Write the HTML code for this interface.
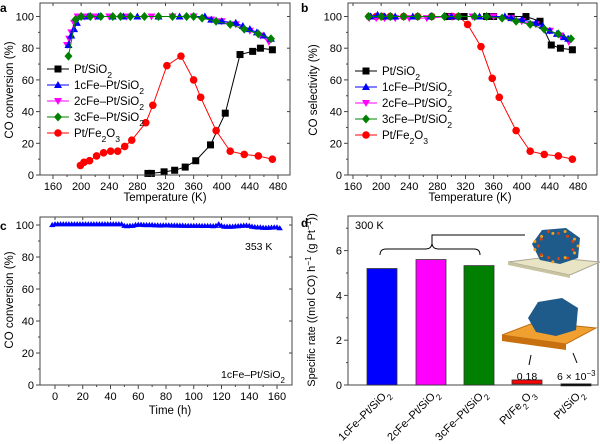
<!DOCTYPE html>
<html><head><meta charset="utf-8">
<style>
html,body{margin:0;padding:0;background:#fff;}
svg{display:block;font-family:"Liberation Sans",Arial,sans-serif;}
</style></head>
<body>
<svg id="fig" width="600" height="444" viewBox="0 0 600 444" xmlns="http://www.w3.org/2000/svg"></svg>
<script>
// ---------- Data ----------
const aPtSiO2T=[295,300,318,333,348,363,384,405,426,444,455,472];
const aPtSiO2V=[1,1,2,3,5,9,19,39,76,78,80,79];
const aPtFeT=[199,204,212,222,232,242,252,262,272,292,302,322,342,360,370,392,412,432,452,472];
const aPtFeV=[6,8,9,12,14,15,15,18,22,33,44,69,75,60,49,28,15,13,12,10];
const a1cT=[182,186,190,194,200,210,225,245,260,280,310,340,376,385,400,420,430,440,450,460,470];
const a1cV=[82,88,92,96,100,100,100,100,100,100,100,100,100,98,97,96,94,92,90,88,86];
const a2cT=[180,183,186,190,195,205,220,240,265,300,330,360,385,400,420,440,455,467];
const a2cV=[82,86,90,96,100,100,100,100,100,100,100,100,98,97,95,91,88,84];
const a3cT=[182,192,200,213,228,245,256,270,290,310,330,350,360,372,392,412,432,452,470];
const a3cV=[75,98,100,100,100,100,100,100,100,100,100,100,100,99,97,95,92,89,86];

const bPtSiO2T=[295,318,350,360,385,406,426,442,455,472];
const bPtSiO2V=[100,100,100,100,100,100,97,82,80,79];
const bPtFeT=[183,193,203,213,232,252,272,292,302,310,323,342,358,368,392,412,432,452,472];
const bPtFeV=[100,100,100,100,100,100,100,100,100,100,95,81,61,49,28,15,13,12,10];
const b1cT=[185,195,205,220,245,270,300,310,340,376,385,400,420,430,440,450,460,466];
const b1cV=[100,101,100,100,100,100,100,100,100,100,99,98,96,94,91,89,87,86];
const b2cT=[183,193,205,220,240,265,300,330,360,385,400,420,440,455,467];
const b2cV=[99,99,99,99,99,99,100,100,100,99,97,95,91,88,84];
const b3cT=[182,200,213,232,252,272,290,310,333,350,372,392,412,432,452,470];
const b3cV=[100,100,100,100,100,100,100,100,100,100,99,97,95,92,89,86];

const cTime=[-2,0,2,4,6,8,10,12,14,16,18,20,22,24,26,28,30,32,34,36,38,40,42,44,46,48,50,52,54,56,58,60,62,64,66,68,70,72,74,76,78,80,82,84,86,88,90,92,94,96,98,100,102,104,106,108,110,112,114,116,118,120,122,124,126,128,130,132,134,136,138,140,142,144,146,148,150,152,154,156,158,160,162];
const cConv=[100,100.5,100.5,100.5,100.5,100.5,100.5,100.5,100.5,100.5,100.5,100.5,100.5,100.5,100.5,100.5,100.5,100.5,100.5,100.5,100.5,100.5,100.5,100.5,100.5,100.5,99.5,99.3,99.5,99.5,100,100.2,100.2,100,100,100,100,99.8,99.8,99.7,99.8,99.8,99.8,99.7,99.7,99.7,99.6,99.6,99.5,99.5,99.5,99.5,99.5,99.5,99.4,99.4,99.4,99.4,99.3,99.5,100.5,99.5,99,99,99,99,99.2,99.3,99.5,99.6,99.7,99.5,99,98.7,98.5,98.5,98.3,98.2,98.3,98.4,98.5,98.5,98];

const dCats=["1cFe–Pt/SiO2","2cFe–Pt/SiO2","3cFe–Pt/SiO2","Pt/Fe2O3","Pt/SiO2"];
const dVals=[5.2,5.6,5.33,0.18,0.006];
const dColors=["#0000ff","#ff00ff","#008000","#ff0000","#000000"];

// ---------- Helpers ----------
const NS="http://www.w3.org/2000/svg";
const svg=document.getElementById('fig');
function mk(tag,attrs,parent){const e=document.createElementNS(NS,tag);for(const k in attrs)e.setAttribute(k,attrs[k]);(parent||svg).appendChild(e);return e;}
function txt(x,y,s,attrs,parent){const t=mk('text',Object.assign({x:x,y:y,'font-size':11,fill:'#000'},attrs||{}),parent);t.textContent=s;return t;}
function chemText(x,y,s,attrs,parent){
  const t=mk('text',Object.assign({x:x,y:y,'font-size':11,fill:'#000'},attrs||{}),parent);
  let buf='';
  for(let i=0;i<s.length;i++){
    const c=s[i];
    const isSub=/\d/.test(c)&&i>0&&/[Oe]/.test(s[i-1]);
    if(isSub){
      if(buf){const sp=mk('tspan',{},t);sp.textContent=buf;buf='';}
      const sp=mk('tspan',{'baseline-shift':'sub','font-size':'0.75em'},t);sp.textContent=c;
    } else buf+=c;
  }
  if(buf){const sp=mk('tspan',{},t);sp.textContent=buf;}
  return t;
}
function marker(g,type,x,y,color,s){
  s=s||3.5;
  if(type==='sq')return mk('rect',{x:x-s,y:y-s,width:2*s,height:2*s,fill:color},g);
  if(type==='tu')return mk('polygon',{points:`${x},${y-s-0.5} ${x-s-0.5},${y+s-0.5} ${x+s+0.5},${y+s-0.5}`,fill:color},g);
  if(type==='td')return mk('polygon',{points:`${x},${y+s+0.5} ${x-s-0.5},${y-s+0.5} ${x+s+0.5},${y-s+0.5}`,fill:color},g);
  if(type==='di')return mk('polygon',{points:`${x},${y-s-1} ${x+s+0.5},${y} ${x},${y+s+1} ${x-s-0.5},${y}`,fill:color},g);
  return mk('circle',{cx:x,cy:y,r:s+0.3,fill:color},g);
}
function frame(box,xTicks,xFmt,yTicks,minorX,minorY,sx,sy){
  mk('rect',{x:box.l,y:box.t,width:box.r-box.l,height:box.b-box.t,fill:'none',stroke:'#444','stroke-width':1});
  xTicks.forEach(v=>{const x=sx(v);mk('line',{x1:x,x2:x,y1:box.b,y2:box.b+4,stroke:'#444'});mk('line',{x1:x,x2:x,y1:box.t,y2:box.t+3,stroke:'#444'});
    txt(x,box.b+15,xFmt(v),{'text-anchor':'middle','font-size':11});});
  minorX.forEach(v=>{const x=sx(v);mk('line',{x1:x,x2:x,y1:box.b,y2:box.b+2,stroke:'#444'});});
  yTicks.forEach(v=>{const y=sy(v);mk('line',{x1:box.l-4,x2:box.l,y1:y,y2:y,stroke:'#444'});mk('line',{x1:box.r-3,x2:box.r,y1:y,y2:y,stroke:'#444'});
    txt(box.l-6,y+4,String(v),{'text-anchor':'end','font-size':11});});
  minorY.forEach(v=>{const y=sy(v);mk('line',{x1:box.l-2,x2:box.l,y1:y,y2:y,stroke:'#444'});});
}
function series(g,T,V,sx,sy,type,color){
  const pts=T.map((t,i)=>sx(t)+','+sy(V[i])).join(' ');
  mk('polyline',{points:pts,fill:'none',stroke:color,'stroke-width':1},g);
  T.forEach((t,i)=>marker(g,type,sx(t),sy(V[i]),color));
}
const legendItems=[["Pt/SiO2",'sq','#000'],["1cFe–Pt/SiO2",'tu','#0000ff'],["2cFe–Pt/SiO2",'td','#ff00ff'],["3cFe–Pt/SiO2",'di','#008000'],["Pt/Fe2O3",'ci','#ff0000']];
function legend(x,y){
  const g=mk('g',{});
  
  
  legendItems.forEach((it,i)=>{
    const yy=y+i*16;
    const e=mk('g',{},g);
    
    
    mk('line',{x1:x,x2:x+22,y1:yy,y2:yy,stroke:it[2]},e);
    marker(e,it[1],x+11,yy,it[2]);
    chemText(x+27,yy+4,it[0],{'font-size':11.5},e);
  });
}

// ---------- Panel a ----------
(function(){
  const box={l:40,r:290,t:3,b:175};
  const sx=t=>53+(t-160)*(225/320), sy=v=>175-v*1.585;
  const g=mk('g',{});
  frame(box,[160,200,240,280,320,360,400,440,480],String,[0,20,40,60,80,100],[180,220,260,300,340,380,420,460],[10,30,50,70,90],sx,sy);
  series(g,aPtSiO2T,aPtSiO2V,sx,sy,'sq','#000');
  series(g,aPtFeT,aPtFeV,sx,sy,'ci','#ff0000');
  series(g,a2cT,a2cV,sx,sy,'td','#ff00ff');
  series(g,a1cT,a1cV,sx,sy,'tu','#0000ff');
  series(g,a3cT,a3cV,sx,sy,'di','#008000');
  legend(47,69);
  txt(0,12,'a',{'font-weight':'bold','font-size':12});
  txt(165,201,'Temperature (K)',{'text-anchor':'middle','font-size':11.5});
  txt(0,0,'CO conversion (%)',{'text-anchor':'middle','font-size':11.5,transform:'translate(13,90) rotate(-90)'});
})();

// ---------- Panel b ----------
(function(){
  const box={l:348,r:597,t:3,b:175};
  const sx=t=>353+(t-160)*(225/320), sy=v=>175-v*1.585;
  const g=mk('g',{});
  frame(box,[160,200,240,280,320,360,400,440,480],String,[0,20,40,60,80,100],[180,220,260,300,340,380,420,460],[10,30,50,70,90],sx,sy);
  series(g,bPtFeT,bPtFeV,sx,sy,'ci','#ff0000');
  series(g,bPtSiO2T,bPtSiO2V,sx,sy,'sq','#000');
  series(g,b2cT,b2cV,sx,sy,'td','#ff00ff');
  series(g,b1cT,b1cV,sx,sy,'tu','#0000ff');
  series(g,b3cT,b3cV,sx,sy,'di','#008000');
  legend(355,71);
  txt(301,12,'b',{'font-weight':'bold','font-size':12});
  txt(470,201,'Temperature (K)',{'text-anchor':'middle','font-size':11.5});
  txt(0,0,'CO selectivity (%)',{'text-anchor':'middle','font-size':11.5,transform:'translate(317,90) rotate(-90)'});
})();

// ---------- Panel c ----------
(function(){
  const box={l:40,r:292,t:217,b:385};
  const sx=t=>55+t*(222/160), sy=v=>385-v*1.6;
  const g=mk('g',{});
  frame(box,[0,20,40,60,80,100,120,140,160],String,[0,20,40,60,80,100],[10,30,50,70,90,110,130,150],[10,30,50,70,90],sx,sy);
  const pts=cTime.map((t,i)=>sx(t)+','+sy(cConv[i])).join(' ');
  mk('polyline',{points:pts,fill:'none',stroke:'#0000ff','stroke-width':1},g);
  cTime.forEach((t,i)=>marker(g,'tu',sx(t),sy(cConv[i]),'#0000ff',2.6));
  txt(0,230,'c',{'font-weight':'bold','font-size':12});
  txt(245,250,'353 K',{'font-size':10.5});
  chemText(221,378,'1cFe–Pt/SiO2',{'font-size':10.5});
  txt(170,414,'Time (h)',{'text-anchor':'middle','font-size':11.5});
  txt(0,0,'CO conversion (%)',{'text-anchor':'middle','font-size':11.5,transform:'translate(13,300) rotate(-90)'});
})();

// ---------- Panel d ----------
(function(){
  const box={l:348,r:598,t:216,b:385};
  const sy=v=>385-v*22.4;
  const cx=[382,431,479,527,576];
  mk('rect',{x:box.l,y:box.t,width:box.r-box.l,height:box.b-box.t,fill:'none',stroke:'#444'});
  [0,2,4,6].forEach(v=>{const y=sy(v);mk('line',{x1:box.l-4,x2:box.l,y1:y,y2:y,stroke:'#444'});txt(box.l-6,y+4,String(v),{'text-anchor':'end','font-size':11});});
  [1,3,5,7].forEach(v=>{const y=sy(v);mk('line',{x1:box.l-2,x2:box.l,y1:y,y2:y,stroke:'#444'});});
  const g=mk('g',{});
  dVals.forEach((v,i)=>{
    const y=sy(v);
    const r=mk('rect',{x:cx[i]-15,y:y-(i>2?1:0),width:30,height:Math.max(385-y,2),fill:dColors[i],stroke:'#333','stroke-width':0.8},g);
    
    
    chemText(0,0,dCats[i],{'font-size':11,'text-anchor':'end',transform:`translate(${cx[i]+8},${394}) rotate(-45)`});
  });
  txt(301,227,'d',{'font-weight':'bold','font-size':12});
  txt(355,229,'300 K',{'font-size':11});
  txt(527,380,'0.18',{'text-anchor':'middle','font-size':10.5});
  const t6=txt(557,380,'6 × 10',{'font-size':10.5});
  const sp=mk('tspan',{'baseline-shift':'super','font-size':'0.75em'},t6);sp.textContent='−3';
  // brace
  mk('path',{d:'M380,255 Q380,249 386,249 L426,249 Q431,249 432,244 Q433,249 438,249 L474,249 Q480,249 480,255',fill:'none',stroke:'#000','stroke-width':1});
  mk('path',{d:'M432,244 L432,235 L525,235',fill:'none',stroke:'#000','stroke-width':1});
  // insets
  const ins=mk('g',{});
  mk('polygon',{points:'508,262 548,257 600,262 570,275',fill:'#e8e4c4',stroke:'#aaa69a'},ins);
  mk('polygon',{points:'508,262 570,275 570,278 508,265',fill:'#c8c4a0'},ins);
  mk('polygon',{points:'532,244 542,230 566,228 580,238 578,258 560,264 540,260',fill:'#1e5a8a'},ins);
  for(let i=0;i<22;i++){const a=i/22*Math.PI*2;mk('circle',{cx:556+22*Math.cos(a)*(i%2?0.8:1),cy:246+16*Math.sin(a)*(i%3?0.8:1),r:1.5,fill:i%2?'#e04010':'#f0a020'},ins);}
  mk('polygon',{points:'502,335 536,322 596,328 566,344',fill:'#f0a030',stroke:'#c07010'},ins);
  mk('polygon',{points:'502,335 566,344 566,350 502,341',fill:'#c87010'},ins);
  mk('polygon',{points:'528,318 538,302 562,298 578,308 576,330 556,336 536,332',fill:'#1e5a8a'},ins);
  mk('line',{x1:531,y1:355,x2:529,y2:365,stroke:'#000'},ins);
  mk('line',{x1:573,y1:353,x2:577,y2:363,stroke:'#000'},ins);
  const yl=txt(0,0,'Specific rate ((mol CO) h',{'text-anchor':'middle','font-size':11,transform:'translate(315,300) rotate(-90)'});
  const s1=mk('tspan',{'baseline-shift':'super','font-size':'0.75em'},yl);s1.textContent='−1';
  const s2=mk('tspan',{},yl);s2.textContent=' (g Pt';
  const s3=mk('tspan',{'baseline-shift':'super','font-size':'0.75em'},yl);s3.textContent='−1';
  const s4=mk('tspan',{},yl);s4.textContent='))';
})();
</script>
</body></html>
